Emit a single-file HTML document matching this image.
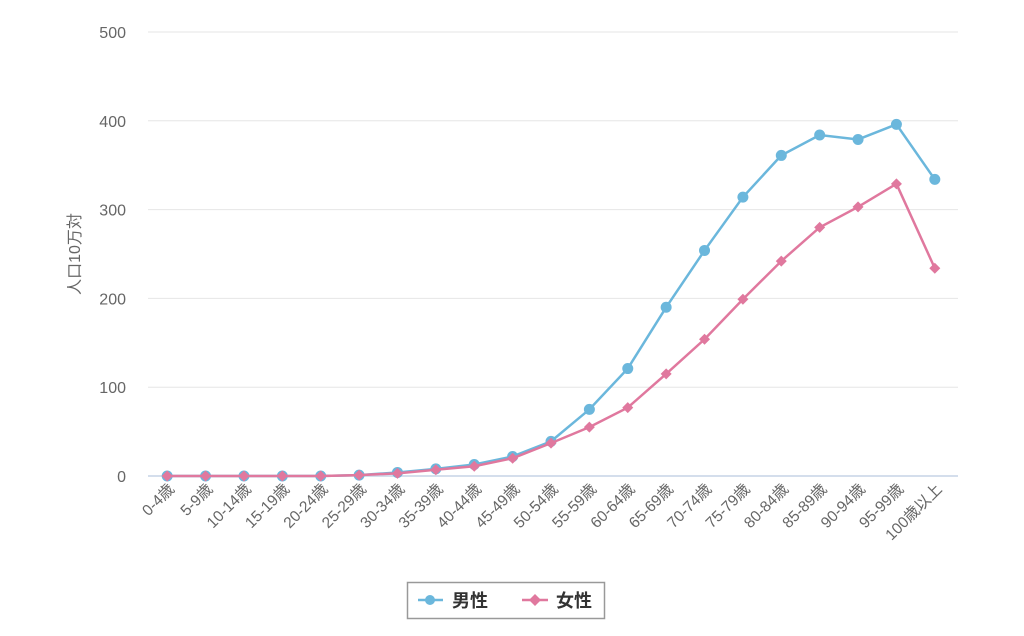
<!DOCTYPE html>
<html><head><meta charset="utf-8"><style>
body{margin:0;background:#fff;width:1024px;height:631px;overflow:hidden}
svg text{font-family:"Liberation Sans","Noto Sans CJK JP",sans-serif}
</style></head><body>
<svg id="chart" width="1024" height="631">
<g id="grid"></g><g id="axes"></g><g id="series"></g>
<text x="80" y="254" transform="rotate(-90 80 254)" text-anchor="middle" font-size="16" fill="#666">人口10万対</text>
<g>
<rect x="407.5" y="582.5" width="197" height="36" fill="#fff" stroke="#999" stroke-width="1.5"/>
<g>
<line x1="418" y1="600" x2="443" y2="600" stroke="#6bb7dc" stroke-width="2.5"/><circle cx="430" cy="600" r="5" fill="#6bb7dc"/>
<text x="452" y="607" font-size="18" font-weight="bold" fill="#333">男性</text></g>
<g>
<line x1="522" y1="600" x2="548" y2="600" stroke="#e0789e" stroke-width="2.5"/><path d="M535 594L541 600L535 606L529 600Z" fill="#e0789e"/>
<text x="556" y="607" font-size="18" font-weight="bold" fill="#333">女性</text></g>
</g>
</svg>
<script>
const categories=["0-4歳","5-9歳","10-14歳","15-19歳","20-24歳","25-29歳","30-34歳","35-39歳","40-44歳","45-49歳","50-54歳","55-59歳","60-64歳","65-69歳","70-74歳","75-79歳","80-84歳","85-89歳","90-94歳","95-99歳","100歳以上"];
const male=[0,0,0,0,0,1,4,8,13,22,39,75,121,190,254,314,361,384,379,396,334];
const female=[0,0,0,0,0,1,3,7,11,20,37,55,77,115,154,199,242,280,303,329,234];
const yTicks=[0,100,200,300,400,500];
const NS="http://www.w3.org/2000/svg";
const x0=148,x1=954,yBase=476,yTop=32;
const xs=i=>x0+(x1-x0)/categories.length*(i+0.5);
const ys=v=>yBase-(yBase-yTop)*v/500;
function mk(t,a,p){const e=document.createElementNS(NS,t);for(const k in a)e.setAttribute(k,a[k]);p.appendChild(e);return e;}
const grid=document.getElementById('grid'),axes=document.getElementById('axes'),ser=document.getElementById('series');
yTicks.forEach(v=>{
 const l=mk('line',{x1:x0,x2:958,y1:ys(v),y2:ys(v),stroke:v===0?'#c5d3e6':'#e6e6e6','stroke-width':v===0?1.5:1},grid);
 
 
 const t=mk('text',{x:126,y:ys(v)+6,'text-anchor':'end','font-size':16,fill:'#666'},axes);
 t.textContent=v;
 
 
});
categories.forEach((c,i)=>{
 const x=xs(i)+8,y=490;
 const t=mk('text',{x:x,y:y,'text-anchor':'end','font-size':15.5,fill:'#666',transform:`rotate(-45 ${x} ${y})`},axes);
 t.textContent=c;
 
 
});
function draw(data,color,shape,name){
 const pl=mk('polyline',{points:data.map((v,i)=>xs(i)+','+ys(v)).join(' '),fill:'none',stroke:color,'stroke-width':2.5},ser);
 
 
 data.forEach((v,i)=>{
  const cx=xs(i),cy=ys(v);let m;
  if(shape==='circle')m=mk('circle',{cx:cx,cy:cy,r:5.5,fill:color},ser);
  else m=mk('path',{d:`M${cx} ${cy-5.5}L${cx+5.5} ${cy}L${cx} ${cy+5.5}L${cx-5.5} ${cy}Z`,fill:color},ser);
  
  
 });
}
draw(male,'#6bb7dc','circle','male');
draw(female,'#e0789e','diamond','female');
</script>
</body></html>
